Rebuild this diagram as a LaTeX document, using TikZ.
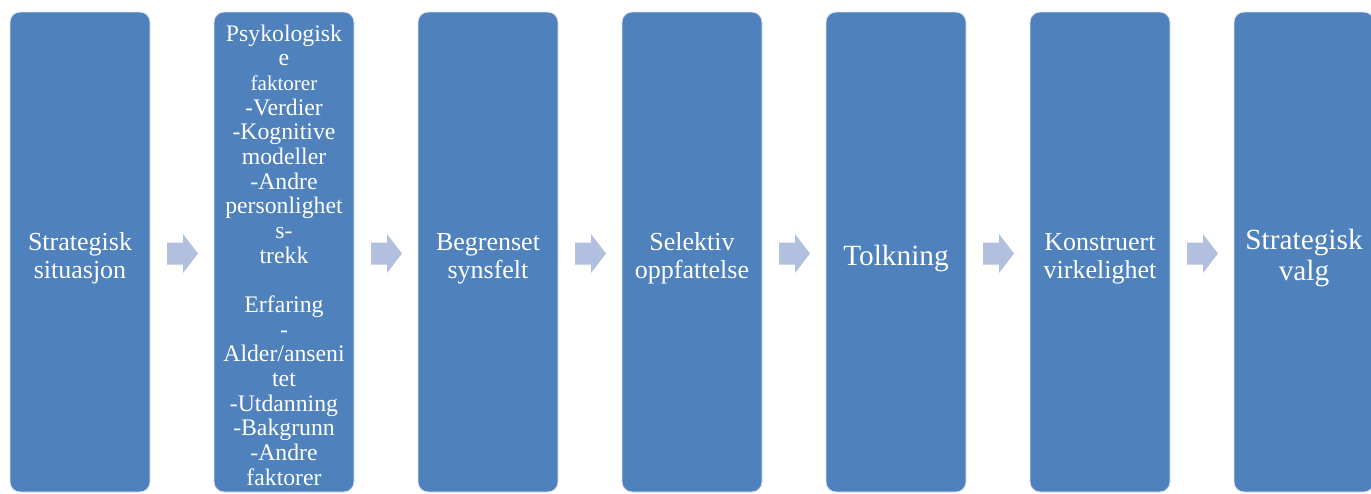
\documentclass[tikz,border=0pt]{standalone}
\usepackage{fontspec}
\setmainfont{Liberation Serif}
\usetikzlibrary{calc}
\definecolor{boxblue}{RGB}{79,129,189}
\definecolor{arrowblue}{RGB}{176,192,222}
\begin{document}
\begin{tikzpicture}[x=0.75pt,y=-0.75pt,
  box/.style={rounded corners=7.5pt, fill=boxblue, draw=white!80!boxblue, line width=0.6pt,
    minimum width=105pt, minimum height=360pt, inner sep=0pt, outer sep=0pt},
  lbl/.style={text=white, align=center, inner sep=0pt, font=\fontsize{19.5}{21}\selectfont},
  lblbig/.style={text=white, align=center, inner sep=0pt, font=\fontsize{22}{23.25}\selectfont},
  lblsmall/.style={text=white, align=center, inner sep=0pt, font=\fontsize{17.8}{18.5}\selectfont},
  flowarrow/.style={fill=arrowblue}
]
\useasboundingbox (0,0) rectangle (1371,493);
\node[box] (b1) at (80,252) {};
\node[box] (b2) at (284,252) {};
\node[box] (b3) at (488,252) {};
\node[box] (b4) at (692,252) {};
\node[box] (b5) at (896,252) {};
\node[box] (b6) at (1100,252) {};
\node[box] (b7) at (1304,252) {};

\node[lbl] (l1) at ($(b1.center)+(0,6.5)$) {Strategisk\\situasjon};
\node[lblsmall, anchor=north] (l2) at ($(b2.north)+(0,12.5)$) {Psykologisk\\e\\{\fontsize{15.8}{18.5}\selectfont faktorer}\\-Verdier\\-Kognitive\\modeller\\-Andre\\personlighet\\s-\\trekk\\[18.5pt]Erfaring\\-\\Alder/anseni\\tet\\-Utdanning\\-Bakgrunn\\-Andre\\faktorer};
\node[lbl] (l3) at ($(b3.center)+(0,6.5)$) {Begrenset\\synsfelt};
\node[lbl] (l4) at ($(b4.center)+(0,6.5)$) {Selektiv\\oppfattelse};
\node[lblbig] (l5) at ($(b5.center)+(0,6)$) {Tolkning};
\node[lbl] (l6) at ($(b6.center)+(0,6.5)$) {Konstruert\\virkelighet};
\node[lblbig] (l7) at ($(b7.center)+(0,6)$) {Strategisk\\valg};

\foreach \a in {b1,b2,b3,b4,b5,b6}{
  \fill[flowarrow] ($(\a.east)+(17,-9.5)$) -- ($(\a.east)+(33,-9.5)$) -- ($(\a.east)+(33,-18)$)
    -- ($(\a.east)+(48,1.5)$) -- ($(\a.east)+(33,21)$) -- ($(\a.east)+(33,12.5)$)
    -- ($(\a.east)+(17,12.5)$) -- cycle;
}
\end{tikzpicture}
\end{document}
